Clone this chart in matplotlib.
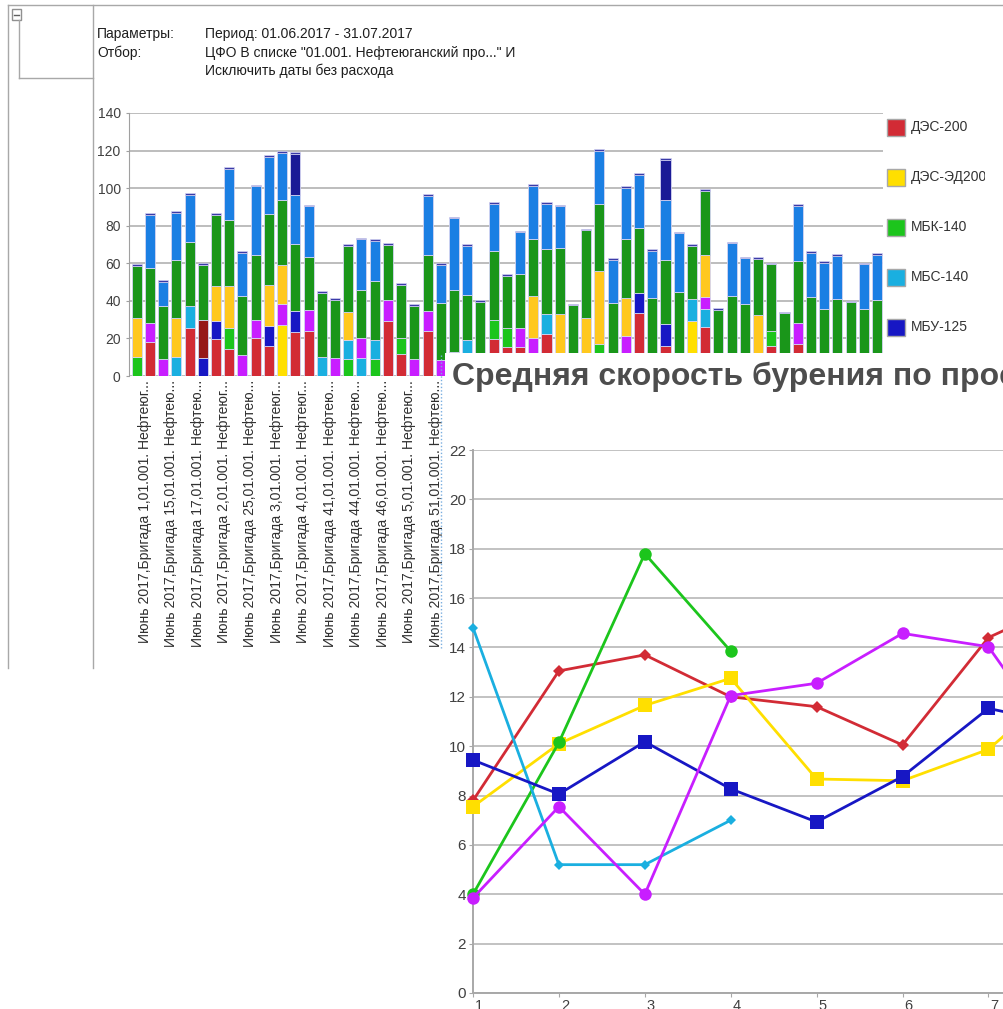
import matplotlib
matplotlib.use("Agg")
import matplotlib.pyplot as plt
from matplotlib.patches import Rectangle
from matplotlib.lines import Line2D
from matplotlib.transforms import ScaledTranslation
import numpy as np

plt.rcParams['font.family'] = ['Liberation Sans', 'DejaVu Sans']

# ---- stacked bars (57 categories), heights per series ----
des200 = [0, 18.2, 0, 0, 25.8, 0, 19.5, 14.2, 0, 20,
          16.1, 0, 23.5, 24.1, 0, 0, 0, 0, 0, 29.4,
          11.7, 0, 24.1, 0, 0, 0, 0, 19.7, 15.4, 15.4,
          0, 22.5, 0, 0, 0, 0, 0, 0, 33.5, 0,
          16, 0, 0, 25.9, 0, 0, 0, 0, 16, 0,
          17.2, 0, 0, 0, 0, 0, 0]
des_ed200 = [0, 0, 0, 0, 0, 0, 0, 0, 0, 0,
             0, 26.9, 0, 0, 0, 0, 0, 0, 0, 0,
             0, 0, 0, 0, 0, 0, 0, 0, 0, 0,
             0, 0, 0, 0, 0, 0, 0, 0, 0, 0,
             0, 0, 29.4, 0, 0, 0, 0, 0, 0, 0,
             0, 0, 0, 0, 0, 0, 0]
mbk140 = [10, 0, 0, 0, 0, 0, 0, 11.1, 0, 0,
          0, 0, 0, 0, 0, 0, 9, 0, 9, 0,
          8.3, 0, 0, 0, 0, 0, 0, 10.1, 10, 0,
          0, 0, 0, 0, 0, 17.2, 0, 0, 0, 0,
          0, 0, 0, 0, 0, 0, 0, 0, 8.1, 0,
          0, 0, 0, 0, 0, 0, 0]
mbs140 = [0, 0, 0, 10.3, 11.5, 0, 0, 0, 0, 0,
          0, 0, 0, 0, 10.3, 0, 10.1, 9.7, 10.1, 0,
          0, 0, 0, 0, 0, 19.2, 0, 0, 0, 0,
          0, 10.3, 0, 0, 0, 0, 0, 0, 0, 0,
          0, 0, 11.6, 9.8, 0, 0, 0, 0, 0, 0,
          0, 0, 0, 0, 0, 0, 0]
mbu125 = [0, 0, 0, 0, 0, 9.7, 9.9, 0, 0, 0,
          10.3, 0, 11, 0, 0, 0, 0, 0, 0, 0,
          0, 0, 0, 0, 0, 0, 0, 0, 0, 0,
          0, 0, 0, 0, 0, 0, 0, 0, 10.5, 0,
          11.7, 0, 0, 0, 0, 0, 0, 0, 0, 0,
          0, 0, 0, 0, 0, 0, 0]
s_magenta = [0, 10.1, 9, 0, 0, 0, 0, 0, 11.2, 9.9,
             0, 11.3, 0, 10.9, 0, 9.7, 0, 10.7, 0, 11,
             0, 9, 10.4, 8.5, 13, 0, 0, 0, 0, 10,
             20.2, 0, 0, 0, 0, 0, 0, 21.5, 0, 0,
             0, 0, 0, 6.3, 0, 0, 0, 0, 0, 0,
             10.8, 0, 0, 0, 0, 0, 0]
s_darkred = [0, 0, 0, 0, 0, 20.2, 0, 0, 0, 0,
             0, 0, 0, 0, 0, 0, 0, 0, 0, 0,
             0, 0, 0, 0, 0, 0, 0, 0, 0, 0,
             0, 0, 0, 0, 0, 0, 0, 0, 0, 0,
             0, 0, 0, 0, 0, 0, 0, 0, 0, 0,
             0, 0, 0, 0, 0, 0, 0]
s_orange = [21, 0, 0, 20.7, 0, 0, 18.4, 22.5, 0, 0,
            21.9, 21.1, 0, 0, 0, 0, 15.1, 0, 0, 0,
            0, 0, 0, 0, 0, 0, 0, 0, 0, 0,
            22.4, 0, 32.8, 0, 30.7, 38.8, 0, 20, 0, 0,
            0, 0, 0, 22.6, 0, 0, 0, 32.6, 0, 0,
            0, 0, 0, 0, 0, 0, 0]
s_darkgreen = [27.5, 29.4, 28.3, 31, 34.2, 29.1, 38, 35.2, 31.3, 34.5,
               37.7, 34.2, 35.9, 28.4, 34.1, 30.8, 35.2, 25.6, 31.5, 29.6,
               28.7, 28.5, 29.7, 30.1, 32.8, 24.1, 39.4, 36.5, 27.8, 29.1,
               30.3, 34.6, 35.5, 37.6, 46.8, 35.4, 38.7, 31.2, 34.8, 41.7,
               34.2, 44.9, 28.4, 34, 35.3, 42.8, 38.1, 29.8, 35.3, 33.4,
               33, 41.9, 35.7, 40.8, 39.2, 35.7, 40.4]
s_blue = [0, 28.1, 12.7, 25, 25, 0, 0, 27.3, 23, 36.5,
          30.5, 25.3, 26.2, 26.9, 0, 0, 0, 26.7, 21.4, 0,
          0, 0, 31.8, 20.4, 38.2, 26.1, 0, 25.2, 0, 22,
          28.4, 24.1, 22, 0, 0, 28.3, 23.2, 27.5, 28.2, 25,
          31.8, 31, 0, 0, 0, 27.8, 24.5, 0, 0, 0,
          29.6, 23.6, 24.6, 23.1, 0, 23.7, 24]
s_navy = [0, 0, 0, 0, 0, 0, 0, 0, 0, 0,
          0, 0, 21.6, 0, 0, 0, 0, 0, 0, 0,
          0, 0, 0, 0, 0, 0, 0, 0, 0, 0,
          0, 0, 0, 0, 0, 0, 0, 0, 0, 0,
          21.4, 0, 0, 0, 0, 0, 0, 0, 0, 0,
          0, 0, 0, 0, 0, 0, 0]

bar_labels = ["Июнь 2017,Бригада 1,01.001. Нефтеюг...",
              "Июнь 2017,Бригада 15,01.001. Нефтею...",
              "Июнь 2017,Бригада 17,01.001. Нефтею...",
              "Июнь 2017,Бригада 2,01.001. Нефтеюг...",
              "Июнь 2017,Бригада 25,01.001. Нефтею...",
              "Июнь 2017,Бригада 3,01.001. Нефтеюг...",
              "Июнь 2017,Бригада 4,01.001. Нефтеюг...",
              "Июнь 2017,Бригада 41,01.001. Нефтею...",
              "Июнь 2017,Бригада 44,01.001. Нефтею...",
              "Июнь 2017,Бригада 46,01.001. Нефтею...",
              "Июнь 2017,Бригада 5,01.001. Нефтеюг...",
              "Июнь 2017,Бригада 51,01.001. Нефтею..."]

legend_names = ["ДЭС-200", "ДЭС-ЭД200", "МБК-140", "МБС-140", "МБУ-125"]

# ---- line chart ----
days = [1, 2, 3, 4, 5, 6, 7, 8]
line_red = [7.8, 13.05, 13.7, 12.0, 11.6, 10.05, 14.4, 16.0]
line_yellow = [7.55, 10.1, 11.65, 12.75, 8.67, 8.6, 9.87, 12.9]
line_green = [4.0, 10.15, 17.8, 13.85]
line_cyan = [14.8, 5.2, 5.2, 7.0]
line_blue = [9.44, 8.06, 10.18, 8.27, 6.93, 8.77, 11.53, 10.8]
line_magenta = [3.85, 7.55, 4.0, 12.05, 12.55, 14.57, 14.03, 9.1]

W, H = 1004, 1009
def fx(px): return px / W
def fy(py): return 1 - py / H

fig = plt.figure(figsize=(W / 100, H / 100), dpi=100)
frame = '#a8a8a8'

# report frame
for xs, ys in [([8, 1004], [5, 5]), ([8, 8], [5, 668]), ([93, 93], [5, 668]),
               ([19, 19], [20, 78]), ([19, 93], [78, 78])]:
    fig.add_artist(Line2D([fx(v) for v in xs], [fy(v) for v in ys], color=frame, lw=1))
fig.add_artist(Rectangle((fx(12), fy(20)), 9 / W, 11 / H, transform=fig.transFigure,
                         facecolor='white', edgecolor='#909090', lw=1))
fig.add_artist(Line2D([fx(14), fx(19)], [fy(14.5), fy(14.5)], color='#606060', lw=1))

hdr = dict(fontsize=10, color='#1e1e1e', va='baseline')
fig.text(fx(97), fy(38), "Параметры:", **hdr)
fig.text(fx(205), fy(38), "Период: 01.06.2017 - 31.07.2017", **hdr)
fig.text(fx(97), fy(56.5), "Отбор:", **hdr)
fig.text(fx(205), fy(56.5), 'ЦФО В списке "01.001. Нефтеюганский про..." И', **hdr)
fig.text(fx(205), fy(75), "Исключить даты без расхода", **hdr)

# ---- bar chart ----
ax1 = fig.add_axes([fx(129), fy(376), 754 / W, 263 / H])
stack = [(des200, '#d22b35'), (des_ed200, '#ffdf00'), (mbk140, '#1cc51c'),
         (mbs140, '#1aafe0'), (mbu125, '#1717c4'), (s_magenta, '#c81eff'),
         (s_darkred, '#961818'), (s_orange, '#ffc81e'), (s_darkgreen, '#1a961a'),
         (s_blue, '#1b7fe3'), (s_navy, '#1b1b96')]
x = np.arange(len(des200))
bottom = np.zeros(len(x))
for vals, col in stack:
    vals = np.array(vals, float)
    m = vals > 0
    ax1.bar(x[m], vals[m], 0.76, bottom=bottom[m], color=col,
            edgecolor='#d4d4f2', linewidth=0.6, zorder=2)
    bottom += vals
ax1.bar(x, 0.9, 0.76, bottom=bottom, color='#3b3ba8', edgecolor='#d4d4f2',
        linewidth=0.5, zorder=2)

ax1.set_xlim(-0.58, 56.45)
ax1.set_ylim(0, 140)
ax1.set_yticks(range(0, 141, 20))
ax1.grid(axis='y', color='#ababab', lw=1.1, zorder=0)
for s in ['top', 'right', 'bottom']:
    ax1.spines[s].set_visible(False)
ax1.spines['left'].set_color('#a0a0a0')
ax1.tick_params(axis='y', length=2, color='#a0a0a0', labelsize=10, labelcolor='#404040', pad=4)
ax1.set_xticks(x[::2][:len(bar_labels)])
ax1.set_xticklabels(bar_labels, rotation=90, fontsize=10.1, color='#303030')
ax1.tick_params(axis='x', length=0, pad=3)
off = ScaledTranslation(8 / 100, 0, fig.dpi_scale_trans)
for t in ax1.get_xticklabels():
    t.set_transform(t.get_transform() + off)

# legend (clipped at right like the report cell)
axl = fig.add_axes([fx(885), fy(350), 100 / W, 240 / H])
axl.set_xlim(885, 985)
axl.set_ylim(350, 110)
axl.axis('off')
for i, name in enumerate(legend_names):
    yc = 127 + 50 * i
    axl.add_patch(Rectangle((887, yc - 8.5), 18, 17, facecolor=stack[i][1],
                            edgecolor='#a8a8a8', lw=1))
    axl.text(911, yc, name, va='center', ha='left', fontsize=10, color='#333333', clip_on=True)

# white panel of the second chart covers the first one
fig.add_artist(Rectangle((fx(445), 0), (W - 445) / W, (H - 353) / H, transform=fig.transFigure,
                         facecolor='white', edgecolor='none', zorder=2))
fig.add_artist(Line2D([fx(441), fx(441)], [fy(355), fy(648)], color='#7aaee0', lw=1,
                      ls=(0, (1, 1.5)), zorder=3))

# ---- line chart ----
ax2 = fig.add_axes([fx(473), fy(993), 531 / W, 543 / H])
ax2.set_zorder(4)
lines = [(line_red, '#d22b35', 'D', 6), (line_yellow, '#ffdf00', 's', 10),
         (line_green, '#1cc51c', 'o', 9), (line_cyan, '#1aafe0', 'D', 5.5),
         (line_blue, '#1717c4', 's', 10), (line_magenta, '#c81eff', 'o', 9)]
for vals, col, mk, ms in lines:
    ax2.plot(days[:len(vals)], vals, color=col, lw=2, marker=mk, markersize=ms,
             markeredgewidth=0, clip_on=False, zorder=3)
ax2.set_xlim(1, 1 + 531 / 85.9)
ax2.set_ylim(0, 22)
ax2.set_yticks(range(0, 23, 2))
ax2.set_xticks(days[:7])
ax2.grid(axis='y', color='#b8b8b8', lw=1.2, zorder=0)
for s in ['top', 'right']:
    ax2.spines[s].set_visible(False)
for s in ['left', 'bottom']:
    ax2.spines[s].set_color('#a8a8a8')
    ax2.spines[s].set_linewidth(1.4)
ax2.tick_params(length=3, color='#a8a8a8', labelsize=11, labelcolor='#404040')
ax2.tick_params(axis='y', pad=2)
ax2.tick_params(axis='x', labelsize=10.5, pad=1.5)
off2 = ScaledTranslation(6 / 100, 0, fig.dpi_scale_trans)
for t in ax2.get_xticklabels():
    t.set_transform(t.get_transform() + off2)

fig.text(fx(452), fy(385), "Средняя скорость бурения по проекту", fontsize=23,
         fontweight='bold', color='#4d4d4d', va='baseline', zorder=5)

fig.savefig("out.png", dpi=100, facecolor='white')
